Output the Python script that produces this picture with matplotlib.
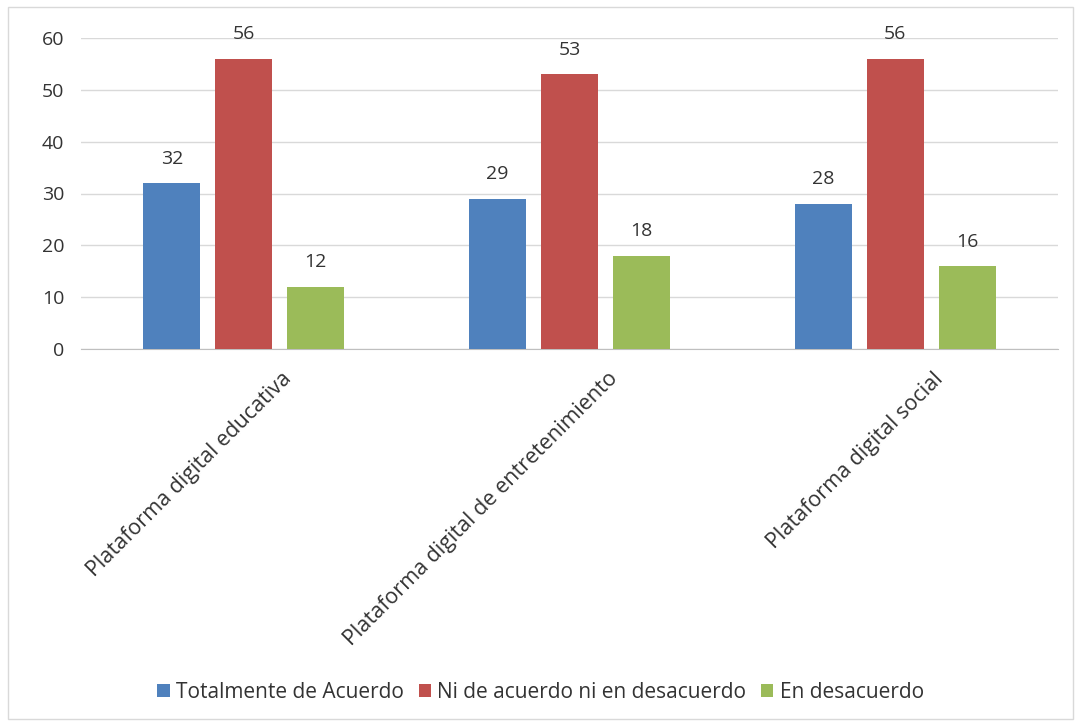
import matplotlib
matplotlib.use("Agg")
import matplotlib.pyplot as plt
import numpy as np
from matplotlib.patches import Rectangle

categories = ["Plataforma digital educativa", "Plataforma digital de entretenimiento", "Plataforma digital social"]
series_names = ["Totalmente de Acuerdo", "Ni de acuerdo ni en desacuerdo", "En desacuerdo"]
totalmente = [32, 29, 28]
ni_ni = [56, 53, 56]
desacuerdo = [12, 18, 16]
yticks = [0, 10, 20, 30, 40, 50, 60]

colors = ["#4F81BD", "#C0504D", "#9BBB59"]
plt.rcParams['font.family'] = ['Open Sans', 'DejaVu Sans']

fig = plt.figure(figsize=(10.81, 7.23), dpi=100)
ax = fig.add_axes([81/1081, 1-349/723, 977/1081, (349-38)/723])

x = np.arange(len(categories))
w = 0.175
off = 0.221
for i, (vals, name) in enumerate(zip([totalmente, ni_ni, desacuerdo], series_names)):
    bars = ax.bar(x + (i-1)*off, vals, w, color=colors[i], label=name, zorder=3)
    for b, v in zip(bars, vals):
        ax.text(b.get_x()+b.get_width()/2, v + 3.0, str(v), ha='center', va='bottom',
                fontsize=14, color='#333333')

ax.set_xlim(-0.5, 2.5)
ax.set_ylim(0, 60)
ax.set_yticks(yticks)
ax.yaxis.grid(True, color='#D9D9D9', linewidth=1, zorder=0)
for s in ['top', 'right', 'left']:
    ax.spines[s].set_visible(False)
ax.spines['bottom'].set_color('#BFBFBF')
ax.tick_params(axis='y', length=0, labelsize=14, labelcolor='#333333', pad=12)
ax.tick_params(axis='x', length=0, pad=14)
ax.set_xticks(x + 0.115)
ax.set_xticklabels(categories, rotation=45, ha='right', va='top', rotation_mode='anchor',
                   fontsize=15.5, color='#333333')

leg = fig.legend(loc='center', bbox_to_anchor=(0.5, 1-692/723), ncol=3, frameon=False,
                 fontsize=15, handlelength=0.6, handleheight=0.6, handletextpad=0.3,
                 columnspacing=0.7, labelcolor='#333333')

fig.patches.append(Rectangle((8/1081, 4/723), 1065/1081, 712/723, transform=fig.transFigure,
                             fill=False, edgecolor='#D9D9D9', linewidth=1))
fig.savefig("out.png", dpi=100)
